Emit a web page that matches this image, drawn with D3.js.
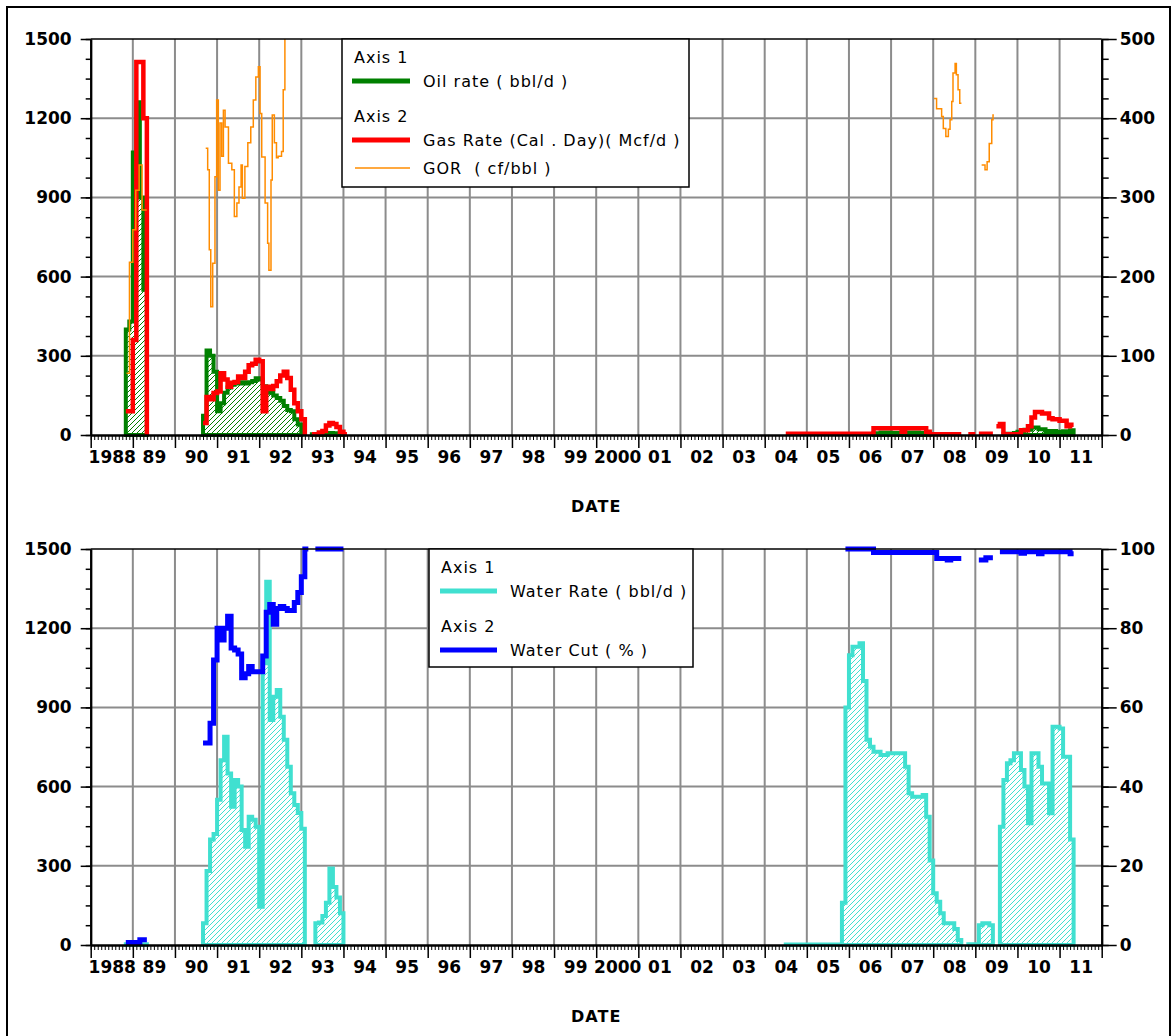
<!DOCTYPE html>
<html>
<head>
<meta charset="utf-8">
<title>Well production - rates and water cut</title>
<script src="https://cdn.jsdelivr.net/npm/d3@7"></script>
<style>
    body { margin: 0; background: #fff; }
    svg { display: block; }
    .leg { font-family: "DejaVu Sans"; font-size: 16px; letter-spacing: 1px; white-space: pre; }
    .ttl { font-family: "DejaVu Sans"; font-weight: bold; font-size: 16px; letter-spacing: 1px; }
</style>
</head>
<body>
<script>
var w = 1174;
var h = 1036;

// tick labels
var yearLabels = ["1988","89","90","91","92","93","94","95","96","97","98","99",
                  "2000","01","02","03","04","05","06","07","08","09","10","11"];
var leftTicks = [0, 300, 600, 900, 1200, 1500];
var gasTicks = [0, 100, 200, 300, 400, 500];
var cutTicks = [0, 20, 40, 60, 80, 100];

// Oil rate (bbl/d), axis 1 of the top chart. null = gap
var oilRate = [
    ["1988-11",400],["1988-12",430],["1989-01",1070],["1989-02",1260],["1989-03",900],["1989-04",550],["1989-05",0],
    null,
    ["1990-09",73],["1990-10",320],["1990-11",300],["1990-12",240],["1991-01",90],["1991-02",120],["1991-03",160],
    ["1991-04",180],["1991-05",190],["1991-06",200],["1991-07",195],["1991-08",200],["1991-09",195],["1991-10",200],
    ["1991-11",205],["1991-12",215],["1992-01",210],["1992-02",185],["1992-03",170],["1992-04",160],["1992-05",150],
    ["1992-06",140],["1992-07",130],["1992-08",110],["1992-09",95],["1992-10",90],["1992-11",60],["1992-12",40],["1993-01",0],
    null,
    ["1993-04",3],["1993-06",5],["1993-08",8],["1993-10",7],["1993-12",3],["1994-01",0],
    null,
    ["2006-08",7],["2006-10",9],["2007-01",8],["2007-04",6],["2007-06",9],["2007-09",8],["2007-12",0],
    null,
    ["2009-09",5],["2009-12",8],["2010-01",12],["2010-03",20],["2010-05",28],["2010-07",22],["2010-09",15],
    ["2010-12",12],["2011-02",14],["2011-04",18],["2011-05",0]
];

// Gas rate (Mcf/d), axis 2 of the top chart
var gasRate = [
    ["1988-11",30],["1989-01",120],["1989-02",471],["1989-04",400],["1989-05",0],
    null,
    ["1990-09",15],["1990-10",48],["1990-11",45],["1990-12",53],["1991-01",55],["1991-02",78],["1991-03",70],
    ["1991-04",61],["1991-05",66],["1991-06",67],["1991-07",74],["1991-08",72],["1991-09",80],["1991-10",88],
    ["1991-11",90],["1991-12",95],["1992-01",93],["1992-02",30],["1992-03",61],["1992-04",58],["1992-05",62],
    ["1992-06",68],["1992-07",75],["1992-08",80],["1992-09",72],["1992-10",57],["1992-11",40],["1992-12",30],
    ["1993-01",20],["1993-02",0],
    null,
    ["1993-04",1],["1993-06",3],["1993-07",5],["1993-08",12],["1993-09",15],["1993-10",14],["1993-11",10],
    ["1993-12",4],["1994-01",1],["1994-02",1],
    null,
    ["2004-07",1.5],["2006-08",8.5],["2007-04",4],["2007-05",8.5],["2007-11",4],["2007-12",1],["2008-09",1],
    null,
    ["2008-11",1],["2009-01",1],
    null,
    ["2009-02",1.5],["2009-06",1.5],
    null,
    ["2009-07",11],["2009-08",14],["2009-09",1],["2010-02",6],["2010-04",11],["2010-05",22],["2010-06",29],
    ["2010-08",27],["2010-10",21],["2010-11",20],["2011-01",18],["2011-03",11],["2011-04",13],["2011-05",13]
];

// GOR (cf/bbl), axis 2 of the top chart, read at finer than monthly steps
var gor = [
    [1988.85,78],[1988.92,218],[1989.0,259],[1989.07,309],[1989.15,341],[1989.22,284],[1989.33,284],
    null,
    [1990.73,362],[1990.777,335],[1990.815,234],[1990.85,162],[1990.896,217],[1990.95,326],[1990.99,423],
    [1991.03,309],[1991.07,394],[1991.11,352],[1991.15,410],[1991.19,389],[1991.27,343],[1991.35,335],
    [1991.41,276],[1991.47,293],[1991.52,313],[1991.57,341],[1991.60,299],[1991.66,339],[1991.73,369],
    [1991.80,389],[1991.86,423],[1991.92,452],[1991.98,465],[1992.02,406],[1992.06,351],[1992.14,293],
    [1992.20,242],[1992.23,208],[1992.28,322],[1992.31,404],[1992.36,369],[1992.41,350],[1992.45,352],
    [1992.53,358],[1992.57,436],[1992.61,520],
    null,
    [2008.02,425],[2008.08,412],[2008.16,412],[2008.20,402],[2008.24,387],[2008.30,377],[2008.36,386],
    [2008.40,398],[2008.44,421],[2008.47,457],[2008.52,469],[2008.55,455],[2008.59,436],[2008.63,419],[2008.67,419],
    null,
    [2009.15,341],[2009.23,335],[2009.28,345],[2009.33,368],[2009.39,398],[2009.42,404],[2009.44,404]
];

// Water rate (bbl/d), axis 1 of the bottom chart
var waterRate = [
    ["1988-11",3],["1989-04",3],["1989-05",0],
    null,
    ["1990-09",82],["1990-10",280],["1990-11",400],["1990-12",420],["1991-01",550],["1991-02",700],["1991-03",789],
    ["1991-04",650],["1991-05",524],["1991-06",625],["1991-07",600],["1991-08",436],["1991-09",372],["1991-10",486],
    ["1991-11",474],["1991-12",448],["1992-01",145],["1992-02",1067],["1992-03",1376],["1992-04",852],["1992-05",940],
    ["1992-06",966],["1992-07",865],["1992-08",777],["1992-09",675],["1992-10",575],["1992-11",530],["1992-12",500],
    ["1993-01",440],["1993-02",0],
    null,
    ["1993-05",82],["1993-06",85],["1993-07",110],["1993-08",160],["1993-09",290],["1993-10",220],["1993-11",180],
    ["1993-12",120],["1994-01",0],
    null,
    ["2004-07",2],["2005-11",160],["2005-12",900],["2006-01",1098],["2006-02",1130],["2006-04",1143],["2006-05",1000],
    ["2006-06",777],["2006-07",751],["2006-08",732],["2006-10",720],["2006-12",726],["2007-05",675],["2007-06",575],
    ["2007-07",562],["2007-10",568],["2007-11",486],["2007-12",320],["2008-01",196],["2008-02",164],["2008-03",120],
    ["2008-04",82],["2008-07",61],["2008-08",19],["2008-09",0],
    null,
    ["2008-11",3],["2009-01",0],
    null,
    ["2009-02",75],["2009-03",82],["2009-05",75],["2009-06",0],
    null,
    ["2009-08",448],["2009-09",625],["2009-10",688],["2009-11",700],["2009-12",726],["2010-02",663],["2010-03",600],
    ["2010-04",461],["2010-05",726],["2010-07",675],["2010-08",612],["2010-10",499],["2010-11",827],["2011-01",820],
    ["2011-02",713],["2011-04",400],["2011-05",0]
];

// Water cut (%), axis 2 of the bottom chart
var waterCut = [
    ["1988-11",0.6],["1989-03",1.3],["1989-05",1.3],
    null,
    ["1990-09",51],["1990-11",56],["1990-12",72],["1991-01",80],["1991-02",77],["1991-03",80],["1991-04",83],
    ["1991-05",75],["1991-06",74.5],["1991-07",73.5],["1991-08",67.5],["1991-09",68.5],["1991-10",70.3],["1991-11",69],
    ["1992-02",73],["1992-03",84],["1992-04",86],["1992-05",81],["1992-06",85],["1992-07",85.5],["1992-08",85],
    ["1992-09",84.5],["1992-11",86.5],["1992-12",89],["1993-01",93],["1993-02",100],["1993-03",100],
    null,
    ["1993-05",100],["1994-01",100],
    null,
    ["2005-12",100],["2006-08",99.1],["2008-02",97.6],["2008-05",97.2],["2008-06",97.6],["2008-09",97.6],
    null,
    ["2009-02",97.2],["2009-04",97.8],["2009-06",97.8],
    null,
    ["2009-08",99.3],["2010-02",98.9],["2010-03",99.3],["2010-07",98.8],["2010-08",99.3],["2011-04",98.8],["2011-05",98.8]
];

var gridColor = "#8c8c8c";
var boldFont = "DejaVu Sans";

function toYear(s) {
    if (typeof s === "number") return s;
    var p = s.split("-");
    return +p[0] + (+p[1] - 1) / 12;
}
function prep(arr) {
    return arr.map(function (d) { return d ? { t: toYear(d[0]), v: d[1] } : null; });
}

var svg = d3.select("body").append("svg").attr("width", w).attr("height", h);
var defs = svg.append("defs");

svg.append("rect").attr("width", w).attr("height", h).attr("fill", "#fff");
svg.append("rect").attr("x", 7).attr("y", 7).attr("width", 1163).attr("height", 1060)
    .attr("fill", "none").attr("stroke", "#000").attr("stroke-width", 2);

function hatch(id, color) {
    var p = defs.append("pattern").attr("id", id)
        .attr("patternUnits", "userSpaceOnUse").attr("width", 5).attr("height", 5);
    p.append("rect").attr("width", 5).attr("height", 5).attr("fill", "#fff");
    p.append("path").attr("d", "M-1,1 L1,-1 M0,5 L5,0 M4,6 L6,4")
        .attr("stroke", color).attr("stroke-width", 1);
}
hatch("hatchOil", "#008000");
hatch("hatchWater", "#40e0d0");

var x = d3.scaleLinear().domain([1988, 2012]).range([90.7, 1101.7]);

function panel(top, bottom, rMax, clipId) {
    var p = {
        top: top, bottom: bottom,
        yL: d3.scaleLinear().domain([0, 1500]).range([bottom, top]),
        yR: d3.scaleLinear().domain([0, rMax]).range([bottom, top]),
        g: svg.append("g")
    };
    defs.append("clipPath").attr("id", clipId).append("rect")
        .attr("x", x(1988)).attr("y", top).attr("width", x(2012) - x(1988)).attr("height", bottom - top);

    // grid
    p.g.selectAll(".vgrid").data(d3.range(1989, 2012)).enter().append("line")
        .attr("x1", function (d) { return x(d); }).attr("x2", function (d) { return x(d); })
        .attr("y1", top).attr("y2", bottom)
        .attr("stroke", gridColor).attr("stroke-width", 2);
    p.g.selectAll(".hgrid").data([300, 600, 900, 1200]).enter().append("line")
        .attr("x1", x(1988)).attr("x2", x(2012))
        .attr("y1", function (d) { return p.yL(d); }).attr("y2", function (d) { return p.yL(d); })
        .attr("stroke", gridColor).attr("stroke-width", 2);
    return p;
}

function styleAxis(sel) {
    sel.selectAll("line").attr("stroke", "#000").attr("stroke-width", 1.5);
    sel.selectAll(".domain").attr("stroke", "#000").attr("stroke-width", 2);
    sel.selectAll("text").attr("font-family", boldFont).attr("font-weight", "bold")
        .attr("font-size", 17).attr("fill", "#000");
}

function axes(p, rTicks, rMinor) {
    var g = p.g;
    // top frame line
    g.append("line").attr("x1", x(1988)).attr("x2", x(2012)).attr("y1", p.top).attr("y2", p.top)
        .attr("stroke", "#000").attr("stroke-width", 1.5);

    var months = d3.range(0, 24 * 12 + 1).map(function (i) { return 1988 + i / 12; });
    var xb = g.append("g").attr("transform", "translate(0," + p.bottom + ")");
    xb.append("g").call(d3.axisBottom(x).tickValues(months).tickSize(5).tickSizeOuter(0).tickFormat(""))
        .call(styleAxis).selectAll("line").attr("stroke-width", 1);
    xb.append("g").call(d3.axisBottom(x).tickValues(d3.range(1988, 2013)).tickSize(13).tickSizeOuter(0).tickFormat(""))
        .call(styleAxis);
    xb.append("g").call(d3.axisBottom(x).tickValues(d3.range(1988.5, 2012, 1)).tickSize(0).tickPadding(16)
        .tickFormat(function (d, i) { return yearLabels[i]; }))
        .call(styleAxis).select(".domain").remove();

    var yl = g.append("g").attr("transform", "translate(" + x(1988) + ",0)");
    yl.append("g").call(d3.axisLeft(p.yL).tickValues(d3.range(0, 1501, 75)).tickSize(5).tickSizeOuter(0).tickFormat(""))
        .call(styleAxis);
    yl.append("g").call(d3.axisLeft(p.yL).tickValues(leftTicks).tickSize(10).tickSizeOuter(0).tickPadding(9)
        .tickFormat(d3.format("d")))
        .call(styleAxis);

    var yr = g.append("g").attr("transform", "translate(" + x(2012) + ",0)");
    yr.append("g").call(d3.axisRight(p.yR).tickValues(rMinor).tickSize(7).tickSizeOuter(0).tickFormat(""))
        .call(styleAxis);
    yr.append("g").call(d3.axisRight(p.yR).tickValues(rTicks).tickSize(15).tickSizeOuter(0).tickPadding(3)
        .tickFormat(d3.format("d")))
        .call(styleAxis);

    g.append("text").attr("class", "ttl").attr("x", (x(1988) + x(2012)) / 2).attr("y", p.bottom + 77)
        .attr("text-anchor", "middle").text("DATE");
}

function areaSeries(p, data, scale, color, fillId) {
    var a = d3.area().defined(function (d) { return d; }).curve(d3.curveStepAfter)
        .x(function (d) { return x(d.t); })
        .y0(scale(0)).y1(function (d) { return scale(d.v); });
    p.g.append("path").datum(prep(data)).attr("d", a)
        .attr("fill", "url(#" + fillId + ")").attr("stroke", color).attr("stroke-width", 4)
        .attr("stroke-linejoin", "miter");
}

function lineSeries(p, data, scale, color, width, clipId) {
    var l = d3.line().defined(function (d) { return d; }).curve(d3.curveStepAfter)
        .x(function (d) { return x(d.t); })
        .y(function (d) { return scale(d.v); });
    var path = p.g.append("path").datum(prep(data)).attr("d", l)
        .attr("fill", "none").attr("stroke", color).attr("stroke-width", width);
    if (clipId) path.attr("clip-path", "url(#" + clipId + ")");
}

function legend(x0, y0, bw, bh, items) {
    var g = svg.append("g");
    g.append("rect").attr("x", x0).attr("y", y0).attr("width", bw).attr("height", bh)
        .attr("fill", "#fff").attr("stroke", "#000").attr("stroke-width", 1.5);
    items.forEach(function (it) {
        if (it.head) {
            g.append("text").attr("class", "leg").attr("x", x0 + 12).attr("y", it.y + 6).text(it.head);
        } else {
            g.append("line").attr("x1", x0 + it.l1).attr("x2", x0 + 68).attr("y1", it.y).attr("y2", it.y)
                .attr("stroke", it.color).attr("stroke-width", it.width);
            g.append("text").attr("class", "leg").attr("x", x0 + 81).attr("y", it.y + 6).text(it.label);
        }
    });
}

// top chart
var top1 = panel(39, 435, 500, "clipTop");
areaSeries(top1, oilRate, top1.yL, "#008000", "hatchOil");
lineSeries(top1, gasRate, top1.yR, "#ff0000", 4.5);
lineSeries(top1, gor, top1.yR, "#ff8c00", 1.5, "clipTop");
axes(top1, gasTicks, d3.range(0, 501, 25));
legend(342, 39, 347, 148, [
    { head: "Axis 1", y: 57 },
    { label: "Oil rate ( bbl/d )", y: 81, color: "#008000", width: 5, l1: 10 },
    { head: "Axis 2", y: 116 },
    { label: "Gas Rate (Cal . Day)( Mcf/d )", y: 140, color: "#ff0000", width: 5, l1: 10 },
    { label: "GOR  ( cf/bbl )", y: 168, color: "#ff8c00", width: 1.5, l1: 13 }
]);

// bottom chart
var bot = panel(549, 945, 100, "clipBot");
areaSeries(bot, waterRate, bot.yL, "#40e0d0", "hatchWater");
lineSeries(bot, waterCut, bot.yR, "#0000ff", 5);
axes(bot, cutTicks, d3.range(0, 101, 5));
legend(429, 549, 264, 118, [
    { head: "Axis 1", y: 567 },
    { label: "Water Rate ( bbl/d )", y: 591, color: "#40e0d0", width: 5, l1: 11 },
    { head: "Axis 2", y: 626 },
    { label: "Water Cut ( % )", y: 650, color: "#0000ff", width: 5, l1: 11 }
]);
</script>
</body>
</html>
